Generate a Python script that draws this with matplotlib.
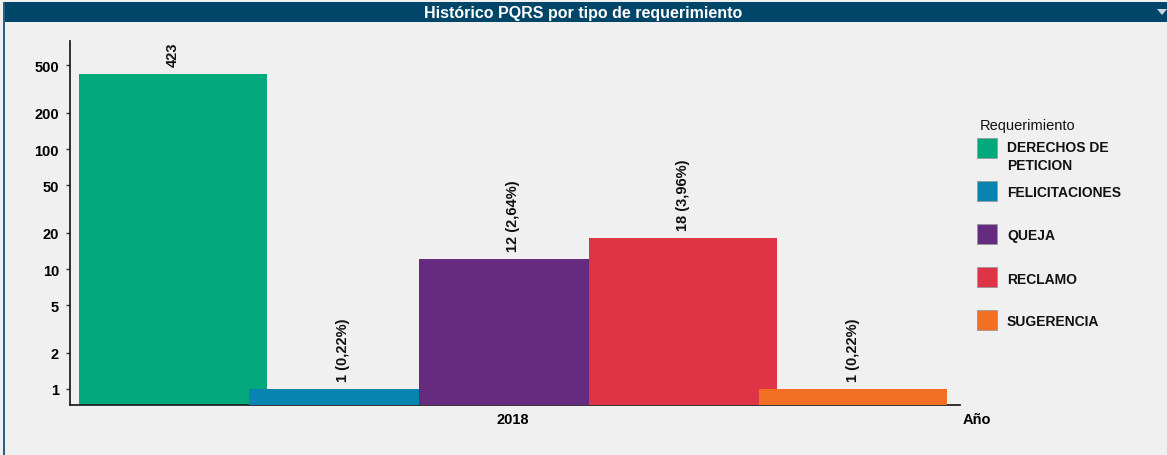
import matplotlib
matplotlib.use("Agg")
import matplotlib.pyplot as plt
from matplotlib.patches import Rectangle, Polygon

categories = ["DERECHOS DE\nPETICION", "FELICITACIONES", "QUEJA", "RECLAMO", "SUGERENCIA"]
values = [423, 1, 12, 18, 1]
value_labels = ["423", "1 (0,22%)", "12 (2,64%)", "18 (3,96%)", "1 (0,22%)"]
colors = ["#03A87C", "#0784B0", "#652B7E", "#DF3346", "#F26F23"]
x_tick_label = "2018"
y_ticks = [1, 2, 5, 10, 20, 50, 100, 200, 500]

W, H = 1167, 456
fig = plt.figure(figsize=(W / 100, H / 100), dpi=100)
fig.patch.set_facecolor("#F0F0F0")
plt.rcParams["font.family"] = ["Liberation Sans", "DejaVu Sans"]

# title bar
fig.patches.append(Rectangle((4 / W, 1 - 23 / H), 1, 20 / H, transform=fig.transFigure,
                             facecolor="#004669", edgecolor="none", zorder=0))
fig.patches.append(Rectangle((3 / W, 0), 2 / W, 1 - 3 / H, transform=fig.transFigure,
                             facecolor="#2A5F86", edgecolor="none", zorder=0))
fig.patches.append(Polygon([[1157 / W, 1 - 10 / H], [1167 / W, 1 - 10 / H], [1162 / W, 1 - 16 / H]],
                           closed=True, transform=fig.transFigure, facecolor="#C8D4DE",
                           edgecolor="none"))
fig.text(583 / W, 1 - 13.5 / H, "Histórico PQRS por tipo de requerimiento", color="white",
         fontsize=11.5, fontweight="bold", ha="center", va="center",
         family=["Liberation Sans Narrow", "Liberation Sans", "DejaVu Sans"])

ax = fig.add_axes([70 / W, (H - 406) / H, 890 / W, 364 / H])
ax.set_facecolor("#F0F0F0")
ax.set_yscale("log")
ymin, ymax = 10 ** (-16 / 120), 10 ** (348 / 120)
ax.set_ylim(ymin, ymax)
ax.set_xlim(-103 / 170, 787 / 170)

width = 188 / 170
for i, (v, c, lab) in enumerate(zip(values, colors, value_labels)):
    ax.bar(i, v - ymin, bottom=ymin, width=width, color=c, edgecolor="none", zorder=2 + i)
    ax.annotate(lab, (i, v), xytext=(0, 6), textcoords="offset points", rotation=90,
                ha="center", va="bottom", fontsize=10.5, fontweight="bold", color="#111111",
                zorder=1000)

ax.set_yticks(y_ticks)
ax.set_yticklabels([str(t) for t in y_ticks])
ax.yaxis.set_minor_locator(matplotlib.ticker.NullLocator())
ax.tick_params(axis="y", length=3, width=1, color="#333333", labelsize=10.5, pad=5)
for t in ax.get_yticklabels():
    t.set_fontweight("bold")
ax.set_xticks([2])
ax.set_xticklabels([x_tick_label])
ax.tick_params(axis="x", length=0, labelsize=10.5, pad=5)
for t in ax.get_xticklabels():
    t.set_fontweight("bold")
for s in ["top", "right"]:
    ax.spines[s].set_visible(False)
for s in ["left", "bottom"]:
    ax.spines[s].set_color("#222222")
    ax.spines[s].set_linewidth(1.3)

fig.text(963 / W, 1 - 420 / H, "Año", fontsize=10.5, fontweight="bold", ha="left", va="center")

# legend
fig.text(980 / W, 1 - 126 / H, "Requerimiento", fontsize=10.5, ha="left", va="center", color="#111111")
ys = [149, 192, 235, 278, 321]
for y, c, name in zip(ys, colors, categories):
    fig.patches.append(Rectangle((977 / W, 1 - (y + 10) / H), 20 / W, 20 / H, transform=fig.transFigure,
                                 facecolor=c, edgecolor="#999999", linewidth=0.6))
    lines = name.split("\n")
    y0 = y - 2 if len(lines) > 1 else y
    for k, line in enumerate(lines):
        fig.text(1007 / W, 1 - (y0 + 18 * k) / H, line, fontsize=10, fontweight="bold",
                 ha="left", va="center_baseline", color="#111111")

fig.savefig("out.png", dpi=100, facecolor=fig.get_facecolor())
